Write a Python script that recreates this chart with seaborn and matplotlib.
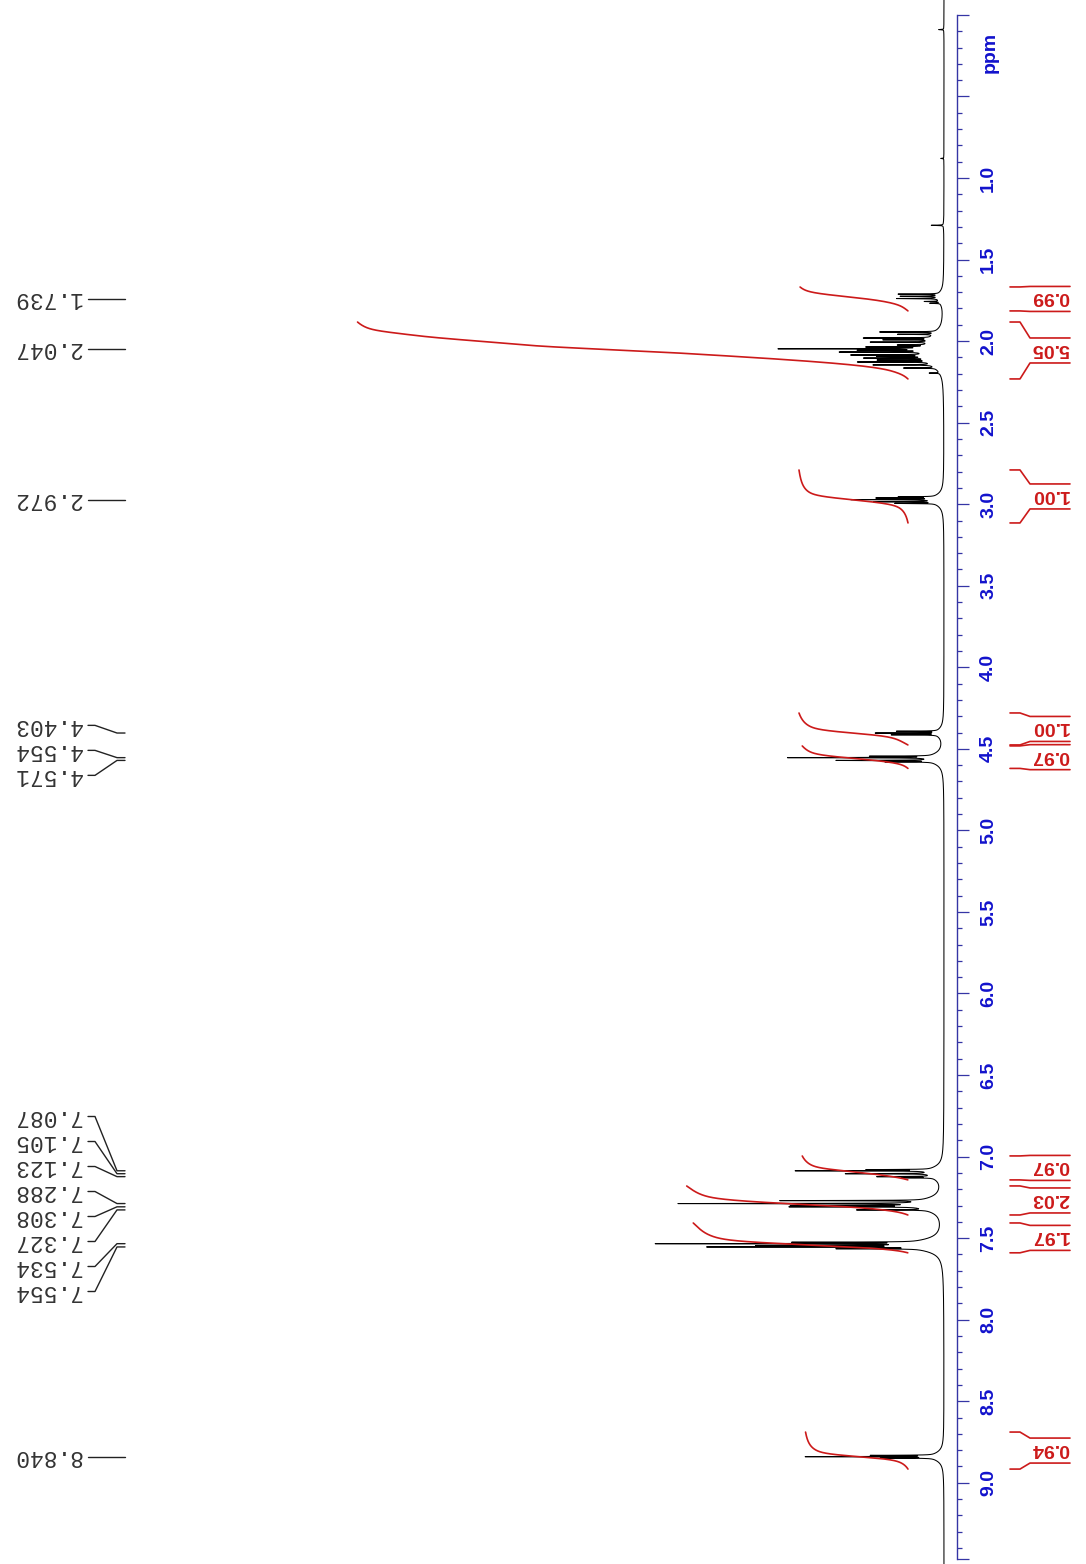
import numpy as np
import matplotlib
matplotlib.use("Agg")
import matplotlib.pyplot as plt
import seaborn as sns

# ---- data ----
# peak list: chemical shift (ppm) and height (intensity, screen px)
peak_ppm = [0.09, 0.88, 1.29,
            1.712, 1.725, 1.739, 1.757, 1.768,
            1.944, 1.958, 1.981, 1.992, 2.006, 2.024, 2.036, 2.047, 2.056,
            2.067, 2.085, 2.094, 2.104, 2.116, 2.128, 2.146, 2.165, 2.196,
            2.955, 2.962, 2.972, 2.985, 2.995,
            4.392, 4.403, 4.414,
            4.545, 4.554, 4.571, 4.580,
            7.080, 7.087, 7.105, 7.123, 7.130,
            7.270, 7.288, 7.300, 7.308, 7.327,
            7.525, 7.534, 7.545, 7.554, 7.565,
            8.832, 8.840, 8.848]
peak_height = [5, 3, 12,
               40, 38, 42, 15, 10,
               55, 35, 68, 45, 57, 27, 55, 145, 60,
               83, 73, 45, 60, 48, 70, 58, 32, 10,
               35, 55, 80, 60, 40,
               40, 62, 45,
               60, 140, 95, 45,
               60, 135, 85, 55, 30,
               140, 235, 120, 125, 70,
               120, 250, 150, 200, 80,
               60, 125, 50]

# labelled shifts, grouped as drawn on the left
label_groups = [[1.739], [2.047], [2.972],
                [4.403, 4.554, 4.571],
                [7.087, 7.105, 7.123, 7.288, 7.308, 7.327, 7.534, 7.554],
                [8.840]]

# integral regions and values
integral_lo = [1.668, 1.883, 2.790, 4.280, 4.482, 6.996, 7.180, 7.407, 8.689]
integral_hi = [1.815, 2.232, 3.115, 4.476, 4.620, 7.143, 7.358, 7.590, 8.916]
integral_val = [0.99, 5.05, 1.00, 1.00, 0.97, 0.97, 2.03, 1.97, 0.94]

# ppm axis
tick_major = [0.0, 0.5, 1.0, 1.5, 2.0, 2.5, 3.0, 3.5, 4.0, 4.5, 5.0, 5.5,
              6.0, 6.5, 7.0, 7.5, 8.0, 8.5, 9.0, 9.47]
tick_text = ['', '', '1.0', '1.5', '2.0', '2.5', '3.0', '3.5', '4.0', '4.5',
             '5.0', '5.5', '6.0', '6.5', '7.0', '7.5', '8.0', '8.5', '9.0', '']

# ---- build the trace ----
ppm = np.arange(-0.1, 9.5, 0.0004)
sharp_w = 0.0012
broad_w = 0.03
spec = np.full_like(ppm, 1.0)
for p, h in zip(peak_ppm, peak_height):
    spec += h * sharp_w**2 / (sharp_w**2 + (ppm - p)**2)
    spec += 0.05 * h * broad_w**2 / (broad_w**2 + (ppm - p)**2)

# smoothed copy used for the integral curves
sig = 30
kern = np.exp(-0.5 * (np.arange(-6 * sig, 6 * sig + 1) / sig)**2)
kern /= kern.sum()
smooth = np.convolve(spec - 1.0, kern, mode='same')

sns.set_style("white")
plt.rcParams['font.family'] = ['Liberation Sans', 'DejaVu Sans']

fig = plt.figure(figsize=(10.86, 15.64), dpi=100)
ax = fig.add_axes([0, 0, 1, 1])
ax.set_xlim(945, -141)
ax.set_ylim(9.498, -0.0914)

sns.lineplot(x=spec, y=ppm, orient='y', sort=True, estimator=None,
             color='black', lw=0.75, ax=ax)

# integrals
red = '#cc1a1a'
hh = 12.5 / 163.1
for lo, hi, val in zip(integral_lo, integral_hi, integral_val):
    m = (ppm >= lo) & (ppm <= hi)
    seg = smooth[m]
    cum = np.cumsum(seg[::-1])[::-1]
    frac = cum / cum[0]
    xi = 37 + 109 * val * frac
    sns.lineplot(x=xi, y=ppm[m], orient='y', sort=True, estimator=None,
                 color=red, lw=1.2, ax=ax)
    yc = (lo + hi) / 2
    ax.plot([-65, -75, -85, -125], [lo, lo, yc - hh, yc - hh], color=red, lw=1.2)
    ax.plot([-65, -75, -85, -125], [hi, hi, yc + hh, yc + hh], color=red, lw=1.2)
    ax.text(-105, yc - 0.012, f'{val:.2f}', rotation=180, ha='center', va='center',
            color=red, fontsize=14, fontweight='bold')

# peak labels
step = 25 / 163.1
for grp in label_groups:
    n = len(grp)
    mid = np.mean(grp)
    for i, p in enumerate(grp):
        ly = mid + (i - (n - 1) / 2) * step
        ax.plot([857, 850, 828, 820], [ly, ly, p, p], color='#222222', lw=1.0)
        ax.text(898, ly, f'{p:.3f}', rotation=180, ha='center', va='center',
                family='Liberation Mono', fontsize=16.5, color='#333333')

# ppm axis
blue_line = '#3535a5'
blue_text = '#1212cc'
for s in ['left', 'top', 'bottom']:
    ax.spines[s].set_visible(False)
ax.spines['right'].set_position(('data', -12))
ax.spines['right'].set_bounds(0, 9.47)
ax.spines['right'].set_color(blue_line)
ax.spines['right'].set_linewidth(1.0)
ax.yaxis.set_ticks_position('right')
ax.set_xticks([])
ax.set_yticks(tick_major)
ax.set_yticklabels(tick_text)
ax.set_yticks(np.round(np.arange(0, 9.45, 0.1), 1), minor=True)
ax.tick_params(axis='y', which='major', length=8.6, width=0.9, color=blue_line,
               labelcolor=blue_text, pad=8, labelsize=14)
ax.tick_params(axis='y', which='minor', length=3.3, width=0.9, color=blue_line)
for t in ax.get_yticklabels():
    t.set_rotation(90)
    t.set_va('center')
    t.set_fontweight('bold')
ax.text(-45, 0.23, 'ppm', rotation=90, ha='center', va='center',
        color=blue_text, fontsize=14, fontweight='bold')
ax.set_ylabel('')
ax.set_xlabel('')

fig.savefig('out.png', dpi=100, facecolor='white')
